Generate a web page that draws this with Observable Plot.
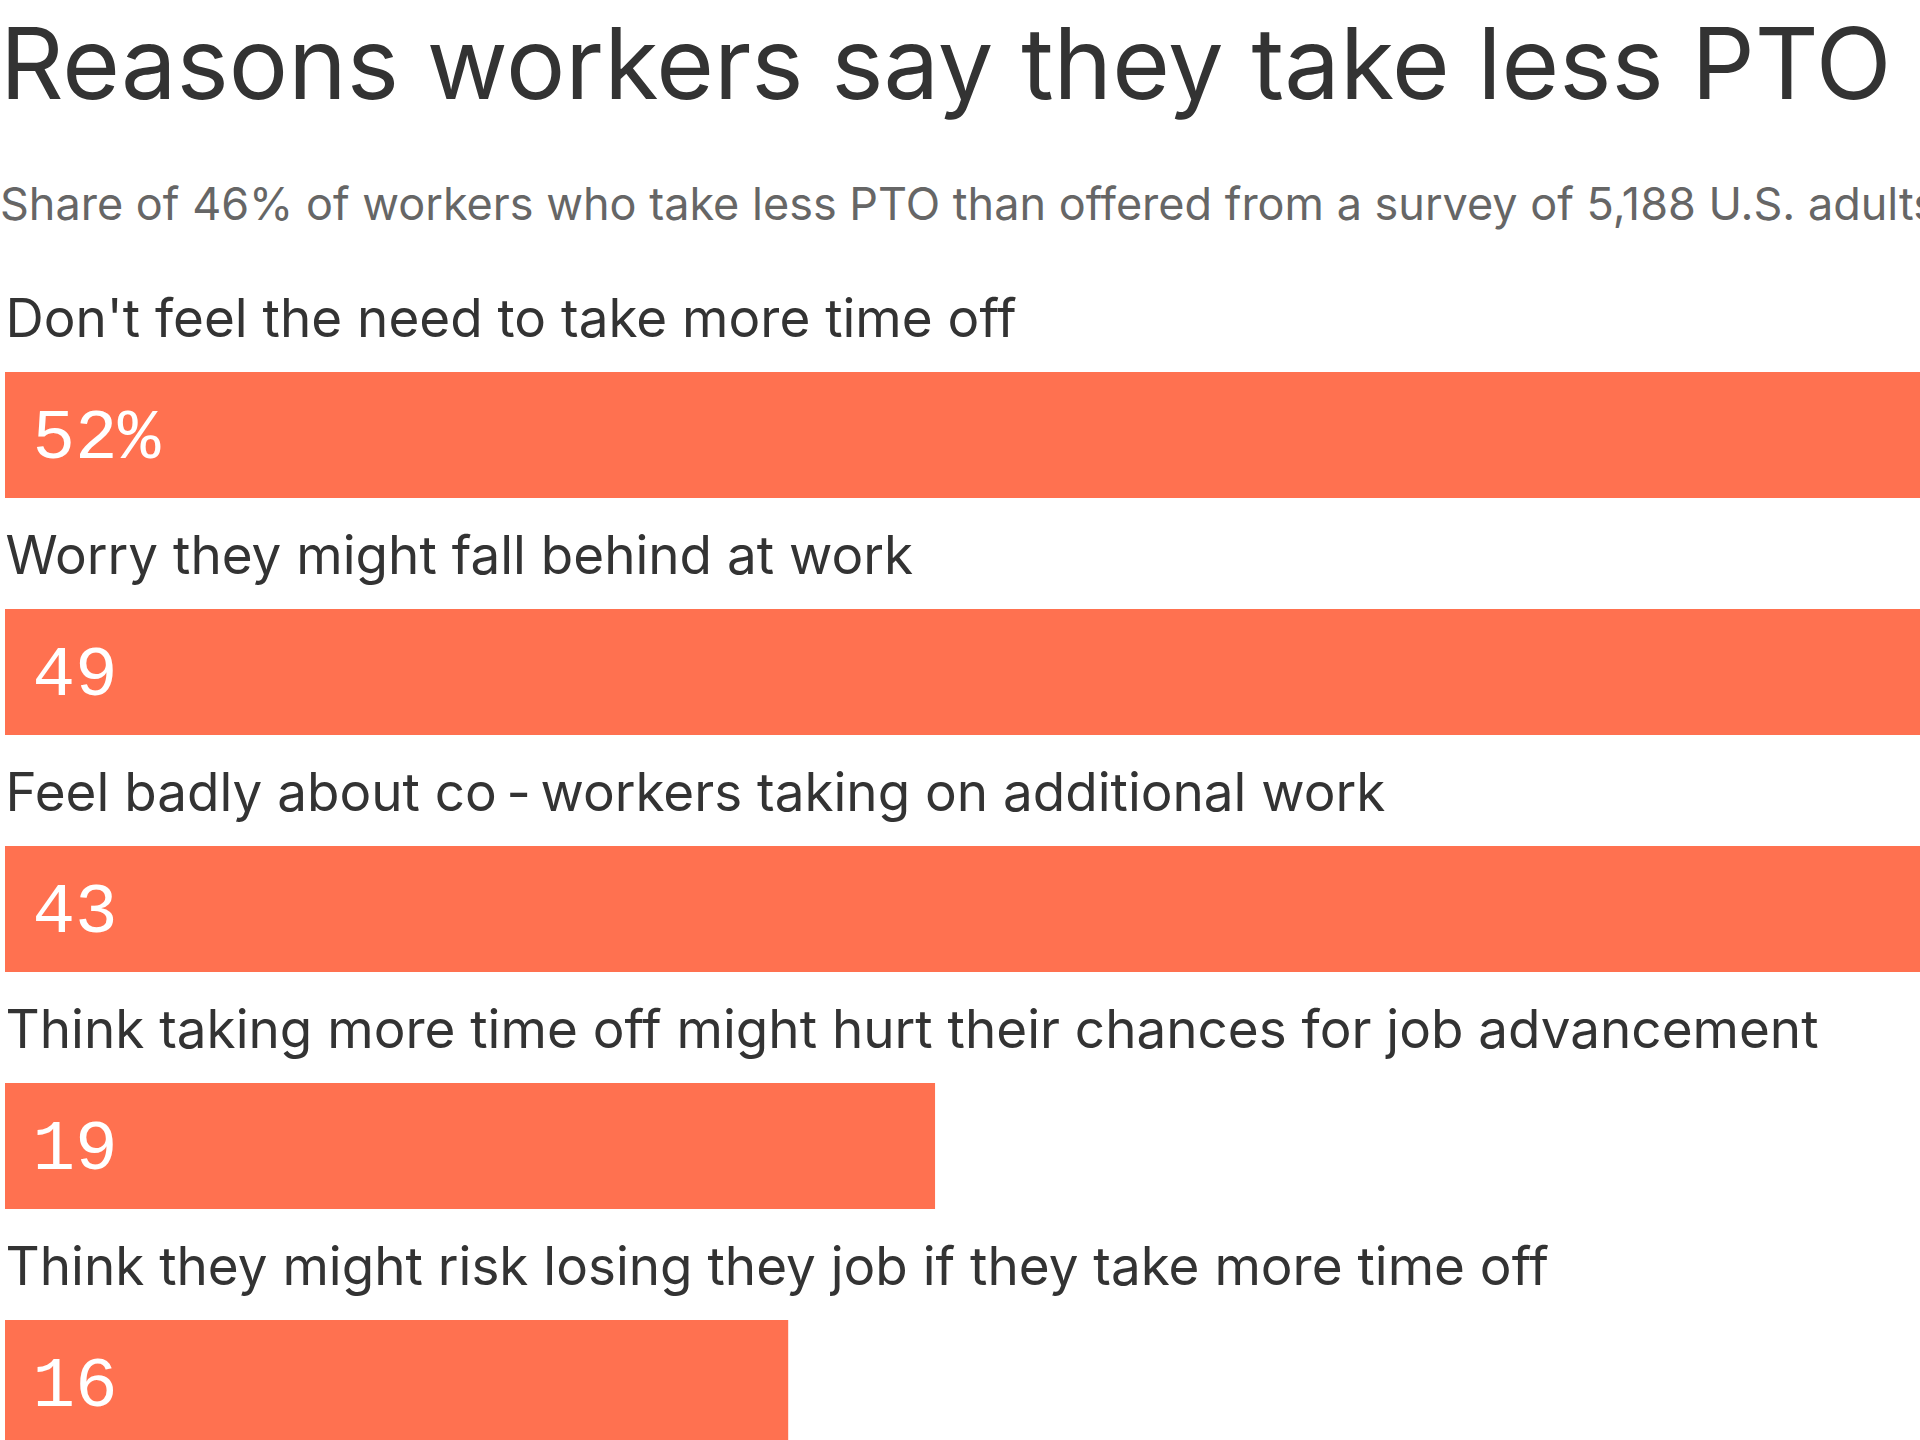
<!DOCTYPE html>
<html>
<head>
<meta charset="utf-8">
<script src="https://cdn.jsdelivr.net/npm/d3@7"></script>
<script src="https://cdn.jsdelivr.net/npm/@observablehq/plot@0.6"></script>
<style>
  html, body { margin: 0; padding: 0; background: #fff; width: 1920px; height: 1440px; overflow: hidden; }
  #wrap { position: relative; width: 1920px; height: 1440px; overflow: hidden; }
  .title { position: absolute; left: 0; top: 14px; font-family: Inter, sans-serif; font-size: 99px; line-height: 1; color: #333; white-space: nowrap; }
  .subtitle { position: absolute; left: 0; top: 181px; font-family: Inter, sans-serif; font-size: 45px; line-height: 1; color: #666; white-space: nowrap; }
  #chart { position: absolute; left: 0; top: 240px; }
</style>
</head>
<body>
<div id="wrap">
  <div class="title">Reasons workers say they take less PTO than offered</div>
  <div class="subtitle">Share of 46% of workers who take less PTO than offered from a survey of 5,188 U.S. adults</div>
  <div id="chart"></div>
</div>
<script>
const reasons = [
  "Don't feel the need to take more time off",
  "Worry they might fall behind at work",
  "Feel badly about co\u2009-\u2009workers taking on additional work",
  "Think taking more time off might hurt their chances for job advancement",
  "Think they might risk losing they job if they take more time off"
];
const shares = [52, 49, 43, 19, 16];
const valueLabels = ["52%", "49", "43", "19", "16"];

const data = reasons.map((r, i) => ({reason: r, share: shares[i], label: valueLabels[i]}));

const chart = Plot.plot({
  width: 1920,
  height: 1200,
  marginLeft: 0, marginRight: 0, marginTop: 0, marginBottom: 0,
  style: {background: "transparent"},
  x: {domain: [0, 52], range: [5, 5 + 52 * 48.95], axis: null},
  y: {domain: reasons, range: [132, 1206], paddingInner: 0.4684, paddingOuter: 0, axis: null},
  marks: [
    Plot.barX(data, {x: "share", y: "reason", fill: "#ff7150"}),
    Plot.text(data, {
      x: 0, y: "reason", text: "reason",
      textAnchor: "start", lineAnchor: "bottom", dy: -99, dx: 0,
      fontFamily: "Inter, sans-serif", fontSize: 53, fill: "#333"
    }),
    Plot.text(data, {
      x: 0, y: "reason", text: "label",
      textAnchor: "start", lineAnchor: "middle", dx: 27, dy: 0,
      fontFamily: "'Liberation Mono', monospace", fontSize: 71, fill: "#fff"
    })
  ]
});
document.getElementById("chart").appendChild(chart);
</script>
</body>
</html>
